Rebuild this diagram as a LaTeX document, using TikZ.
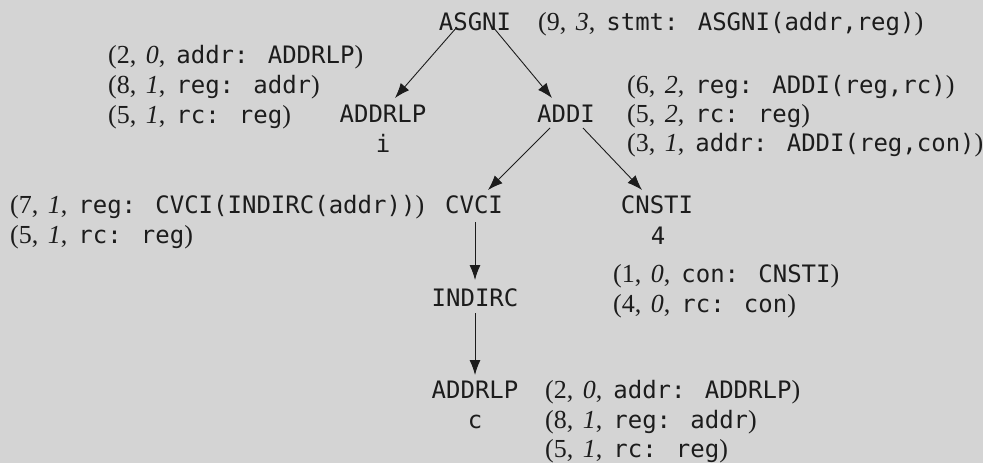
\documentclass[tikz,border=0pt]{standalone}
\usepackage{fontspec}
\setmainfont{Liberation Serif}
\newfontfamily\codefont{DejaVu Sans Mono}
\usetikzlibrary{arrows.meta}
\definecolor{bg}{RGB}{212,212,212}
\definecolor{ink}{RGB}{28,28,28}
\newcommand\cfont{\codefont\fontsize{24pt}{30pt}\selectfont}
\newcommand\lbl[3]{(#1,\hspace{9.5pt}\textit{#2},\hspace{11pt}{\cfont #3})}
\begin{document}
\begin{tikzpicture}[x=1pt,y=-1pt,
  font=\fontsize{26pt}{30pt}\selectfont, color=ink,
  tn/.style={font=\cfont, anchor=base, inner sep=0pt},
  lb/.style={anchor=base west, inner sep=0pt},
  arr/.style={-{Latex[length=15pt,width=11pt]}, line width=0.9pt, draw=ink}]
\fill[bg] (0,0) rectangle (983,463);
\useasboundingbox (0,0) rectangle (983,463);
% tree nodes
\node[tn] (asgni) at (475,30) {ASGNI};
\node[tn] (addrlpA) at (383,122) {ADDRLP};
\node[tn] (iA) at (383,152) {i};
\node[tn] (addi) at (566,122) {ADDI};
\node[tn] (cvci) at (474,213) {CVCI};
\node[tn] (cnsti) at (657,213) {CNSTI};
\node[tn] (four) at (658,244) {4};
\node[tn] (indirc) at (475,306) {INDIRC};
\node[tn] (addrlpB) at (475,398) {ADDRLP};
\node[tn] (cB) at (475,428) {c};
% labels
\node[lb] (s0) at (538,30) {\lbl{9}{3}{stmt: ASGNI(addr,reg)}};
\node[lb] (a1) at (108,63) {\lbl{2}{0}{addr: ADDRLP}};
\node[lb] (a2) at (108,93) {\lbl{8}{1}{reg: addr}};
\node[lb] (a3) at (108,123) {\lbl{5}{1}{rc: reg}};
\node[lb] (b1) at (627,93) {\lbl{6}{2}{reg: ADDI(reg,rc)}};
\node[lb] (b2) at (627,122) {\lbl{5}{2}{rc: reg}};
\node[lb] (b3) at (627,151) {\lbl{3}{1}{addr: ADDI(reg,con)}};
\node[lb] (c1) at (10,213) {\lbl{7}{1}{reg: CVCI(INDIRC(addr))}};
\node[lb] (c2) at (10,243) {\lbl{5}{1}{rc: reg}};
\node[lb] (d1) at (613,282) {\lbl{1}{0}{con: CNSTI}};
\node[lb] (d2) at (613,312) {\lbl{4}{0}{rc: con}};
\node[lb] (e1) at (545,398) {\lbl{2}{0}{addr: ADDRLP}};
\node[lb] (e2) at (545,428) {\lbl{8}{1}{reg: addr}};
\node[lb] (e3) at (545,457) {\lbl{5}{1}{rc: reg}};
% connectors
\draw[arr] ([xshift=-18pt,yshift=3pt]asgni.base) -- ([xshift=12pt,yshift=24pt]addrlpA.base);
\draw[arr] ([xshift=18pt,yshift=3pt]asgni.base) -- ([xshift=-14pt,yshift=24pt]addi.base);
\draw[arr] ([xshift=-16pt,yshift=-6pt]addi.base) -- ([xshift=14pt,yshift=23pt]cvci.base);
\draw[arr] ([xshift=17pt,yshift=-6pt]addi.base) -- ([xshift=-15pt,yshift=23pt]cnsti.base);
\draw[arr] ([xshift=1pt,yshift=-9pt]cvci.base) -- ([yshift=26pt]indirc.base);
\draw[arr] ([yshift=-7pt]indirc.base) -- ([yshift=23pt]addrlpB.base);
\end{tikzpicture}
\end{document}
